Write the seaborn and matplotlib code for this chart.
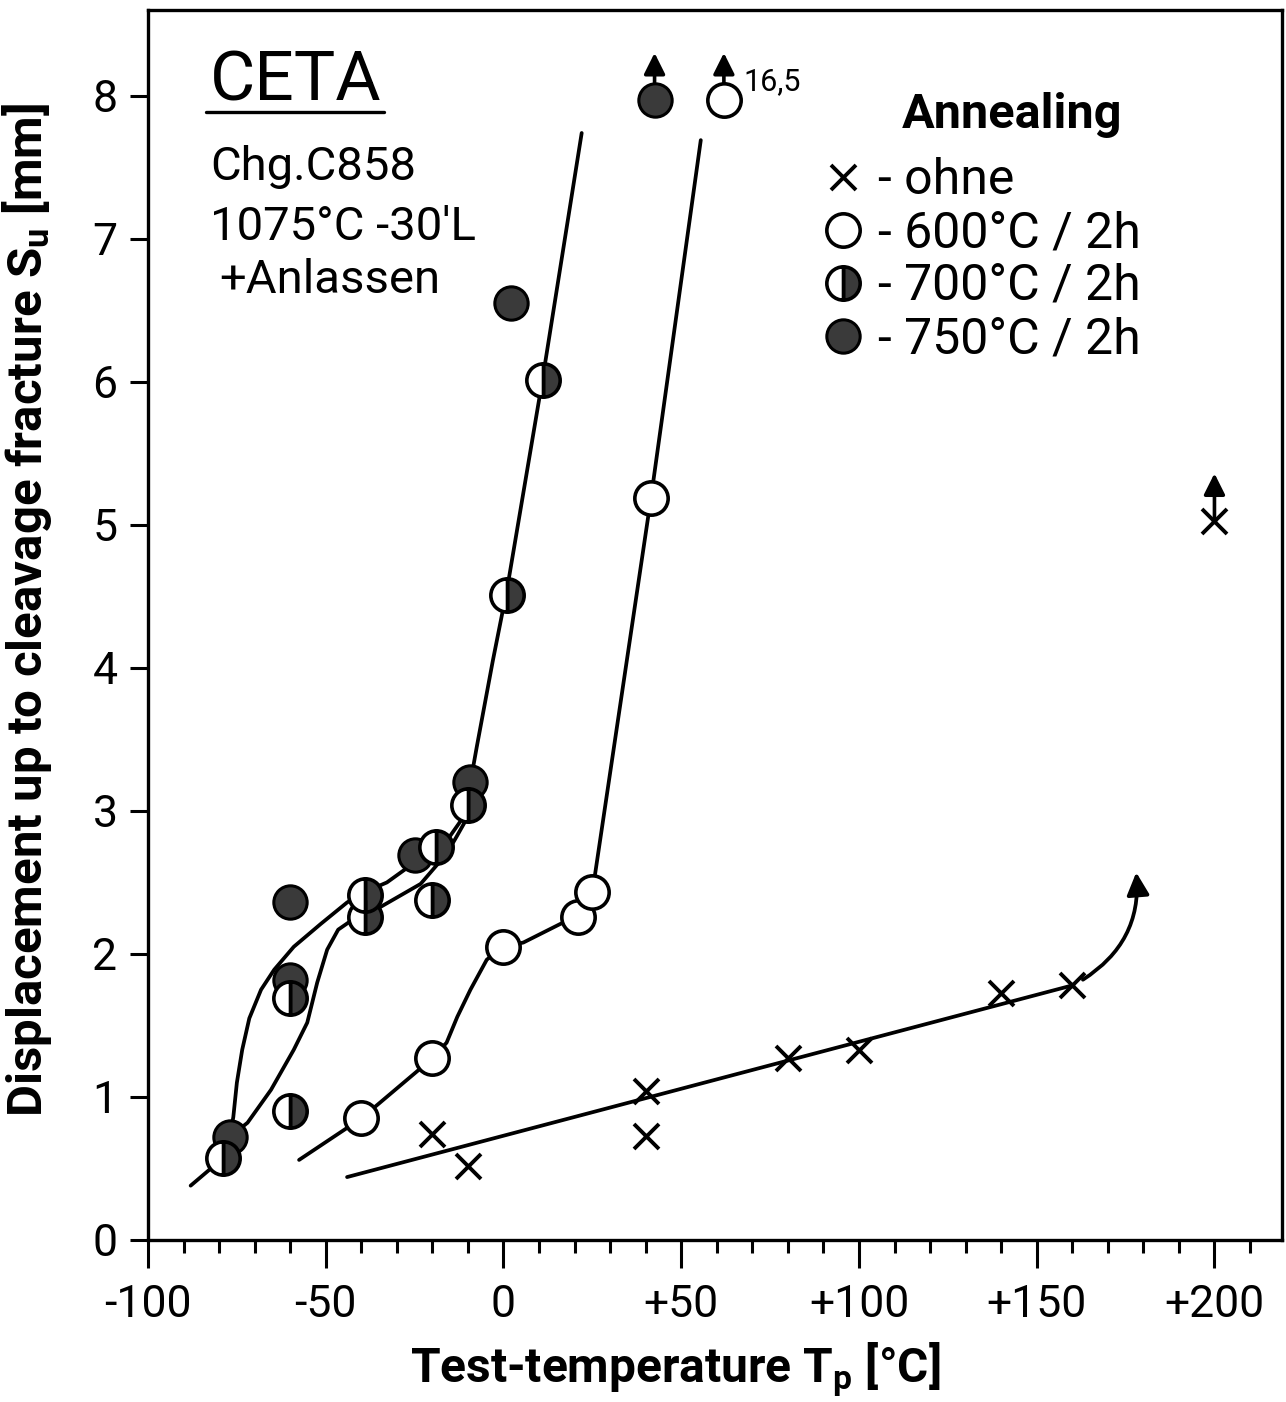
import numpy as np
import pandas as pd
import matplotlib
matplotlib.use("Agg")
import matplotlib.pyplot as plt
import matplotlib.transforms as mtransforms
from matplotlib.lines import Line2D
from matplotlib.ticker import MultipleLocator
import seaborn as sns

# ---------------- data ----------------
# measured points
ohne_T = [-20, -10, 40, 40, 80, 100, 140, 160, 200]
ohne_S = [0.74, 0.52, 1.04, 0.73, 1.27, 1.33, 1.73, 1.78, 5.03]

a600_T = [-40, -20, 0, 21, 25, 41.5, 62]
a600_S = [0.85, 1.27, 2.05, 2.26, 2.43, 5.19, 7.97]

a700_T = [-79, -60, -60, -39, -39, -20, -19, -10, 1, 11]
a700_S = [0.57, 0.90, 1.69, 2.26, 2.41, 2.38, 2.75, 3.04, 4.51, 6.01]

a750_T = [-77, -60, -60, -25, -9.5, 2, 42.5]
a750_S = [0.72, 1.82, 2.36, 2.69, 3.20, 6.55, 7.97]

# points that are off scale (drawn with an arrow)
off_T = [42.5, 62, 200]
off_S = [7.97, 7.97, 5.03]
off_note = ["", "16,5", ""]

# hand-drawn trend curves
fit750_T = [-88, -79, -77, -76, -75, -73.5, -71.5, -68.2, -64.5, -59, -51.4, -44, -38.4,
            -32.8, -27.2, -19.6, -16, -12.6, -10.7, -9.3, -7.5, -3, 1, 11, 22]
fit750_S = [0.38, 0.57, 0.72, 0.86, 1.10, 1.33, 1.55, 1.75, 1.89, 2.05, 2.21, 2.36, 2.44,
            2.50, 2.60, 2.70, 2.79, 2.91, 2.98, 3.20, 3.45, 4.05, 4.55, 6.02, 7.74]

fit700_T = [-77, -72, -65.4, -59, -55.2, -52.4, -49.6, -46.5, -43, -39, -34.5,
            -23.3, -18.8, -16, -13.2, -10.7, -9.8]
fit700_S = [0.72, 0.82, 1.05, 1.33, 1.52, 1.80, 2.03, 2.17, 2.23, 2.27, 2.33,
            2.49, 2.62, 2.70, 2.82, 2.93, 3.04]

fit600_T = [-57.5, -40, -20, -16, -13, -9.3, -4.7, 0, 5.6, 16, 21, 25, 41.5, 55.5]
fit600_S = [0.56, 0.85, 1.27, 1.38, 1.56, 1.75, 1.96, 2.05, 2.08, 2.21, 2.26, 2.43, 5.19, 7.69]

fitohne_T = [-44, 160]
fitohne_S = [0.44, 1.78]

# curved arrow at the end of the "ohne" curve
trend_start = (163, 1.82)
trend_end = (178, 2.57)

x_ticks = [-100, -50, 0, 50, 100, 150, 200]
x_ticklabels = ["-100", "-50", "0", "+50", "+100", "+150", "+200"]
y_ticks = [0, 1, 2, 3, 4, 5, 6, 7, 8]

labels = ["- ohne", "- 600°C / 2h", "- 700°C / 2h", "- 750°C / 2h"]

# ---------------- style ----------------
sns.set_theme(style="ticks")
FONT = ["Roboto", "DejaVu Sans"]
plt.rcParams["font.family"] = FONT
plt.rcParams["mathtext.fontset"] = "custom"
plt.rcParams["mathtext.rm"] = "Roboto"
plt.rcParams["mathtext.it"] = "Roboto"
plt.rcParams["mathtext.bf"] = "Roboto:bold"
for k in ["text.color", "axes.labelcolor", "xtick.color", "ytick.color", "axes.edgecolor"]:
    plt.rcParams[k] = "black"

DARK = "#3a3a3a"
W, H = 1286, 1402
fig = plt.figure(figsize=(W / 100, H / 100), dpi=100)
fig.patch.set_facecolor("white")
ax = fig.add_axes([148 / W, 162 / H, (1282 - 148) / W, (1240 - 10) / H])

LW = 2.7
for tx, sy in [(fit750_T, fit750_S), (fit700_T, fit700_S),
               (fit600_T, fit600_S), (fitohne_T, fitohne_S)]:
    sns.lineplot(x=tx, y=sy, ax=ax, estimator=None, sort=False,
                 color="black", lw=LW, zorder=2)

common = dict(ax=ax, estimator=None, sort=False, ls="", zorder=4)
sns.lineplot(x=ohne_T, y=ohne_S, marker="x", ms=18, mew=2.8,
             color="black", mec="black", **common)
h_ohne = ax.lines[-1]
sns.lineplot(x=a600_T, y=a600_S, marker="o", ms=24, mew=2.6,
             color="black", mfc="white", mec="black", **common)
h600 = ax.lines[-1]
sns.lineplot(x=a750_T, y=a750_S, marker="o", ms=24, mew=2.2,
             color=DARK, mfc=DARK, mec="black", **common)
h750 = ax.lines[-1]
sns.lineplot(x=a700_T, y=a700_S, marker="o", ms=24, mew=2.6, fillstyle="right",
             color=DARK, mfc=DARK, mfcalt="white", mec="black", **common)
h700 = ax.lines[-1]

# off-scale arrows
for t, s, note in zip(off_T, off_S, off_note):
    ax.annotate("", xy=(t, s + 0.33), xytext=(t, s + 0.02),
                arrowprops=dict(arrowstyle="-|>", lw=2.6, color="black",
                                mutation_scale=32, shrinkA=0, shrinkB=0),
                zorder=3)
    if note:
        ax.text(t + 5.5, s + 0.07, note, fontsize=22, ha="left", va="baseline")

ax.annotate("", xy=trend_end, xytext=trend_start,
            arrowprops=dict(arrowstyle="-|>", lw=2.7, color="black",
                            connectionstyle="arc3,rad=0.3",
                            mutation_scale=34, shrinkA=0, shrinkB=0))

# axes
ax.set_xlim(-100, 219)
ax.set_ylim(0, 8.6)
ax.set_xticks(x_ticks)
ax.set_xticklabels(x_ticklabels)
ax.xaxis.set_minor_locator(MultipleLocator(10))
ax.set_yticks(y_ticks)
ax.tick_params(axis="x", which="major", length=20, width=2.2, direction="out",
               labelsize=32, pad=12)
ax.tick_params(axis="x", which="minor", length=9, width=2.2, direction="out")
ax.tick_params(axis="y", which="major", length=13, width=2.2, direction="out",
               labelsize=32, pad=9)
for sp in ax.spines.values():
    sp.set_visible(True)
    sp.set_linewidth(2.4)
    sp.set_color("black")

ax.set_xlabel("Test-temperature T$_\\mathbf{p}$ [°C]", fontsize=34.5, fontweight="bold")
ax.set_ylabel("Displacement up to cleavage fracture S$_\\mathbf{u}$ [mm]",
              fontsize=35.5, fontweight="bold")
ax.xaxis.set_label_coords((675 - 148) / 1134, -(1340 - 1240) / 1230)
ax.yaxis.set_label_coords(-(148 - 54) / 1134, (1240 - 610) / 1230)

# info text block
t_ceta = ax.text(-82.5, 7.97, "CETA", fontsize=50, ha="left", va="baseline")
ax.text(-82.5, 7.41, "Chg.C858", fontsize=34, ha="left", va="baseline")
ax.text(-82.5, 6.99, "1075°C -30'L", fontsize=34, ha="left", va="baseline")
ax.text(-80.0, 6.62, "+Anlassen", fontsize=34, ha="left", va="baseline")

fig.canvas.draw()
bb = t_ceta.get_window_extent()
under_tr = mtransforms.offset_copy(ax.transData, fig=fig, y=-12, units="dots")
inv = ax.transData.inverted()
x0 = inv.transform((bb.x0 - 4, 0))[0]
x1 = inv.transform((bb.x1 + 2, 0))[0]
ax.add_line(Line2D([x0, x1], [7.97, 7.97], transform=under_tr, color="black", lw=2.4))

# legend
ax.text((1012 - 148) / 1134, (1240 - 128) / 1230, "Annealing", transform=ax.transAxes,
        fontsize=35, fontweight="bold", ha="center", va="baseline")
leg = ax.legend([h_ohne, h600, h700, h750], labels,
                loc="upper left", bbox_to_anchor=((818 - 148) / 1134, (1240 - 156) / 1230),
                frameon=False, fontsize=36, labelspacing=0.1, handletextpad=0.2,
                handlelength=1.0, borderpad=0, borderaxespad=0)

fig.savefig("out.png", dpi=100, facecolor="white")
